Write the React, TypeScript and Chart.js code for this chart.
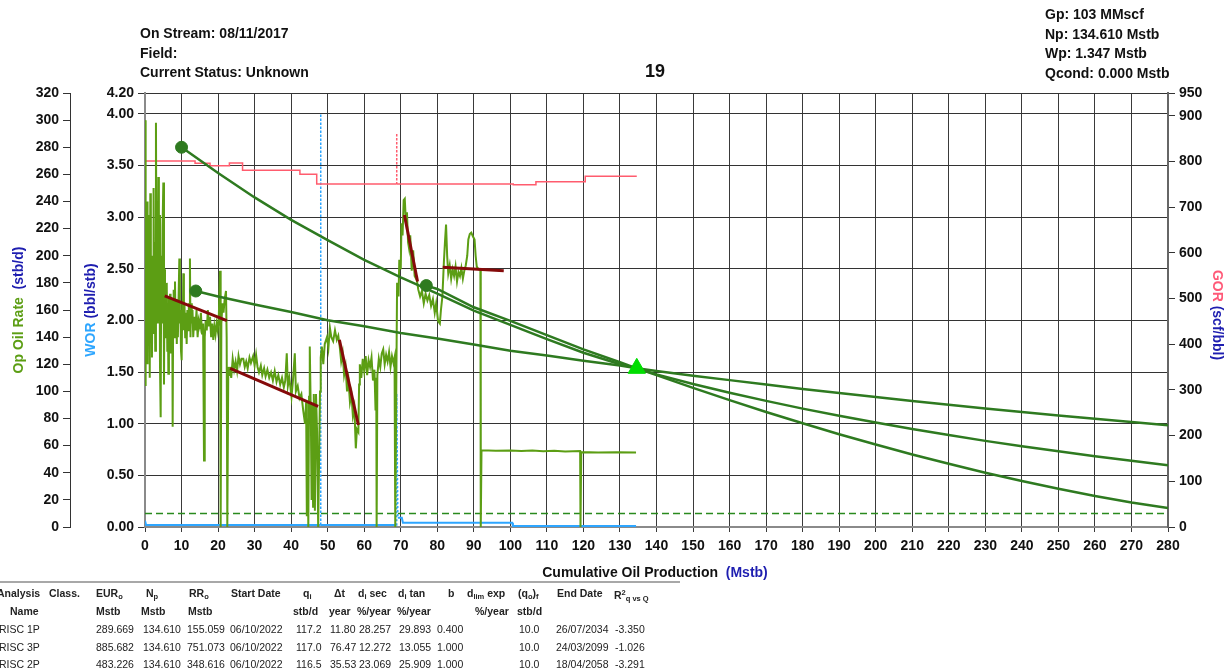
import React, { useEffect, useRef } from 'react';
import { Chart, registerables } from 'chart.js';

Chart.register(...registerables);

// ---------------- DATA ----------------
const xMax = 280;
const xStep = 10;
const oilMax = 320;
const oilStep = 20;
const worMax = 4.2;
const worTicks = [0, 0.5, 1, 1.5, 2, 2.5, 3, 3.5, 4, 4.2];
const gorMax = 950;
const gorTicks = [0, 100, 200, 300, 400, 500, 600, 700, 800, 900, 950];

// Op oil rate history (cum Mstb, stb/d)
const oilRateHistory: [number, number][] = [
  [0, 300], [0.1, 104], [0.25, 230], [0.4, 150], [0.55, 240], [0.7, 120], [0.85, 215], [1.0, 145],
  [1.15, 230], [1.3, 110], [1.45, 246], [1.6, 160], [1.75, 200], [1.9, 125], [2.05, 185], [2.2, 143],
  [2.35, 250], [2.5, 170], [2.65, 210], [2.8, 130], [3.0, 298], [3.15, 175], [3.3, 240], [3.5, 150],
  [3.65, 258], [3.8, 165], [3.95, 230], [4.1, 120], [4.29, 81], [4.45, 200], [4.6, 150], [4.8, 220],
  [5.02, 254], [5.2, 105], [5.35, 190], [5.47, 160], [5.65, 175], [5.8, 140], [5.95, 180], [6.1, 130],
  [6.25, 165], [6.39, 113], [6.55, 170], [6.7, 140], [6.85, 172], [7.0, 128], [7.15, 168], [7.3, 145],
  [7.45, 160], [7.57, 74], [7.7, 150], [7.85, 175], [8.0, 140], [8.21, 181], [8.35, 150], [8.5, 168],
  [8.7, 135], [8.85, 160], [9.0, 140], [9.2, 170], [9.4, 198], [9.55, 150], [9.7, 160], [9.85, 130],
  [10.03, 123], [10.2, 165], [10.35, 150], [10.49, 187], [10.65, 145], [10.8, 165], [11.0, 140], [11.2, 158],
  [11.4, 135], [11.6, 160], [11.8, 145], [12.0, 165], [12.15, 150], [12.3, 198], [12.45, 140], [12.6, 165],
  [12.8, 150], [13.0, 160], [13.2, 140], [13.5, 155], [13.8, 145], [14.1, 160], [14.4, 140], [14.7, 152],
  [15.0, 148], [15.3, 158], [15.6, 142], [15.9, 150], [16.15, 49], [16.35, 140], [16.6, 152], [16.9, 145],
  [17.2, 160], [17.5, 148], [17.8, 155], [18.1, 140], [18.4, 150], [18.7, 138], [19.0, 148], [19.3, 142],
  [19.6, 150], [19.9, 145], [20.2, 155], [20.53, 189], [20.71, 0], [20.9, 150], [21.2, 165], [21.5, 158],
  [21.8, 168], [22.17, 174], [22.35, 140], [22.53, 0], [22.8, 118], [23.0, 112], [23.26, 118], [23.6, 110],
  [24.0, 124], [24.4, 116], [24.8, 122], [25.2, 115], [25.6, 126], [26.0, 120], [26.4, 124], [26.9, 124],
  [27.3, 118], [27.7, 122], [28.1, 117], [28.6, 125], [29.0, 121], [29.6, 126], [30.0, 119], [30.4, 127],
  [30.8, 118], [31.2, 114], [31.7, 119], [32.1, 112], [32.6, 117], [33.0, 111], [33.5, 116], [34.0, 110],
  [34.5, 114], [35.0, 108], [35.5, 115], [36.0, 107], [36.5, 112], [37.0, 105], [37.5, 110], [38.0, 103],
  [38.4, 108], [38.8, 128], [39.1, 104], [39.5, 110], [40.1, 96], [40.5, 108], [41.0, 128], [41.3, 100],
  [41.8, 104], [42.3, 95], [42.8, 98], [43.3, 86], [43.8, 76], [44.1, 92], [44.3, 8], [44.5, 80],
  [44.7, 0], [44.9, 96], [45.1, 133], [45.4, 80], [45.6, 20], [45.8, 90], [46.0, 15], [46.2, 98],
  [46.5, 12], [46.8, 98], [47.1, 70], [47.4, 0], [47.6, 0], [47.9, 100], [48.1, 125], [48.4, 133],
  [48.8, 120], [49.2, 135], [49.8, 140], [50.2, 132], [50.6, 147], [51.0, 140], [51.5, 137], [52.0, 145],
  [52.5, 138], [52.9, 141], [53.3, 133], [53.7, 122], [54.1, 128], [54.5, 112], [54.9, 118], [55.3, 100],
  [55.7, 108], [56.1, 92], [56.5, 98], [56.9, 82], [57.3, 88], [57.7, 58], [58.0, 72], [58.4, 70],
  [58.6, 105], [58.8, 120], [59.2, 110], [59.6, 124], [60.0, 115], [60.4, 126], [60.8, 112], [61.2, 123],
  [61.6, 118], [62.0, 125], [62.4, 108], [62.8, 116], [63.1, 86], [63.3, 110], [63.4, 0], [63.6, 112],
  [64.0, 124], [64.4, 118], [64.8, 128], [65.2, 131], [65.6, 120], [66.0, 127], [66.4, 122], [66.8, 129],
  [67.2, 118], [67.6, 126], [68.0, 121], [68.3, 125], [68.5, 0], [68.8, 110], [69.0, 180], [69.4, 170],
  [69.6, 197], [70.0, 190], [70.2, 224], [70.5, 215], [70.8, 241], [71.1, 242], [71.4, 225], [71.7, 232],
  [72.0, 210], [72.3, 205], [72.6, 215], [73.0, 189], [73.4, 204], [73.8, 185], [74.4, 182], [74.8, 175],
  [75.3, 170], [75.8, 174], [76.3, 165], [76.8, 172], [77.3, 167], [77.8, 171], [78.3, 163], [78.8, 168],
  [79.3, 158], [79.7, 165], [80.2, 152], [80.7, 150], [81.0, 160], [81.4, 170], [81.8, 195], [82.1, 210],
  [82.4, 223], [82.7, 200], [83.0, 187], [83.4, 193], [83.8, 183], [84.2, 190], [84.6, 185], [85.0, 192],
  [85.4, 181], [85.8, 188], [86.2, 185], [86.6, 191], [87.0, 183], [87.4, 189], [87.8, 193], [88.2, 200],
  [88.5, 212], [88.9, 216], [89.3, 217], [89.8, 214], [90.2, 212], [90.5, 200], [90.8, 192], [91.3, 190],
  [91.8, 190], [91.9, 0], [92.1, 56.5], [96, 56.2], [100, 56.4], [103, 56.0], [106, 56.4], [109, 55.8],
  [112, 56.2], [115, 55.7], [119.1, 56.0], [119.2, 0], [119.4, 55.2], [124, 55.0], [129, 55.2], [134.4, 55.0],
];

// WOR history (cum Mstb, bbl/stb)
const worHistory: [number, number][] = [
  [0, 0.06], [0.3, 0.02], [48.1, 0.02], [48.1, 4.0], [48.1, 0.02], [68.8, 0.02], [68.9, 1.29],
  [69.2, 0.09], [70.3, 0.09], [70.6, 0.04], [100.5, 0.04], [100.7, 0.01], [134.4, 0.01],
];
const worSpikeIndex = [3, 6];

// GOR history (cum Mstb, scf/bbl)
const gorHistory: [number, number][] = [
  [0, 801], [13.7, 801], [13.7, 796], [17.8, 796], [17.8, 791], [23.1, 791], [23.1, 797], [26.7, 797],
  [26.7, 781], [42.4, 781], [42.4, 772], [47, 772], [47, 751], [68.9, 751], [68.9, 862], [68.9, 751],
  [100.8, 751], [100.8, 749], [107, 749], [107, 756], [120.5, 756], [120.5, 768], [134.6, 768],
];
const gorSpikeIndex = [14];

// Fitted (red) segments
const fitSegmentA: [number, number][] = [[5.4, 170.4], [22.4, 152.2]];
const fitSegmentB: [number, number][] = [[23.3, 117], [47.4, 89.0]];
const fitSegmentC: [number, number][] = [[53.2, 138.0], [58.4, 75.2]];
const fitSegmentD: [number, number][] = [[71.0, 230], [74.6, 181]];
const fitSegmentE: [number, number][] = [[81.5, 191.5], [98.2, 189]];

// Decline curves (dark green)
const hindcast1P: [number, number][] = [
  [10, 280], [20, 261], [30, 243], [40, 226.5], [50, 211.5], [60, 197], [70, 184], [80, 172],
  [90, 159.5], [100, 149], [110, 138.5], [120, 128.5], [130, 120], [134.6, 117],
];
const hindcast3P: [number, number][] = [
  [13.9, 174], [20, 170], [30, 164], [40, 158.5], [50, 152.5], [60, 148], [70, 143], [80, 139],
  [90, 134.5], [100, 130], [110, 126.5], [120, 122.5], [130, 119], [134.6, 117],
];
const hindcast2P: [number, number][] = [
  [77, 178], [80, 175.5], [90, 162], [100, 152], [110, 141.5], [120, 131], [130, 121.5], [134.6, 117],
];
const forecast1P: [number, number][] = [
  [134.6, 117], [140, 112], [150, 102.6], [160, 93.5], [170, 84.8], [180, 76.5], [190, 68.4], [200, 60.8],
  [210, 53.5], [220, 46.6], [230, 40], [240, 33.9], [250, 28.2], [260, 22.9], [270, 18.1], [280, 14],
];
const forecast2P: [number, number][] = [
  [134.6, 117], [140, 112.5], [150, 105.5], [160, 99], [170, 93], [180, 87.3], [190, 82], [200, 77],
  [210, 72.2], [220, 67.8], [230, 63.5], [240, 59.5], [250, 55.8], [260, 52.2], [270, 48.8], [280, 45.5],
];
const forecast3P: [number, number][] = [
  [134.6, 117], [140, 115.1], [150, 111.6], [160, 108.3], [170, 105], [180, 101.8], [190, 98.8], [200, 95.8],
  [210, 92.9], [220, 90.1], [230, 87.4], [240, 84.8], [250, 82.3], [260, 79.8], [270, 77.4], [280, 75],
];
const fitStartPoints: [number, number][] = [[10, 280], [13.9, 174], [77, 178]];
const forecastStartPoint: [number, number][] = [[134.6, 117]];
const economicLimit: [number, number][] = [[0, 10], [280, 10]];

// Header texts
const headerLeft = ['On Stream: 08/11/2017', 'Field:', 'Current Status: Unknown'];
const headerCenter = '19';
const headerRight = ['Gp: 103 MMscf', 'Np: 134.610 Mstb', 'Wp: 1.347 Mstb', 'Qcond: 0.000 Mstb'];

// Table
const tableRows: string[][] = [
  ['RISC 1P', '289.669', '134.610', '155.059', '06/10/2022', '117.2', '11.80', '28.257', '29.893', '0.400', '', '10.0', '26/07/2034', '-3.350'],
  ['RISC 3P', '885.682', '134.610', '751.073', '06/10/2022', '117.0', '76.47', '12.272', '13.055', '1.000', '', '10.0', '24/03/2099', '-1.026'],
  ['RISC 2P', '483.226', '134.610', '348.616', '06/10/2022', '116.5', '35.53', '23.069', '25.909', '1.000', '', '10.0', '18/04/2058', '-3.291'],
];

// ---------------- STYLE ----------------
const FONT = "'Liberation Sans', Arial, Helvetica, sans-serif";
const OIL_COLOR = '#5c9e14';
const DECLINE_COLOR = '#2e7a20';
const FIT_COLOR = '#850a0a';
const GOR_COLOR = '#ff5c6e';
const WOR_COLOR = '#2ea6ff';
const UNIT_BLUE = '#1e1eb0';
const TICK_FONT = { family: FONT, size: 14, weight: 'bold' as const };

const pts = (a: [number, number][]) => a.map(([x, y]) => ({ x, y }));

const mixedTitlePlugin = {
  id: 'mixedTitles',
  afterDraw(chart: any) {
    const ctx = chart.ctx as CanvasRenderingContext2D;
    ctx.save();
    ctx.font = `bold 14px ${FONT}`;
    ctx.textBaseline = 'middle';
    ctx.textAlign = 'left';
    const draw = (parts: { t: string; c: string }[], x: number, y: number, rot: number) => {
      const total = parts.reduce((s, p) => s + ctx.measureText(p.t).width, 0);
      ctx.save();
      ctx.translate(x, y);
      ctx.rotate(rot);
      let cx = -total / 2;
      for (const p of parts) {
        ctx.fillStyle = p.c;
        ctx.fillText(p.t, cx, 0);
        cx += ctx.measureText(p.t).width;
      }
      ctx.restore();
    };
    draw([{ t: 'Op Oil Rate ', c: OIL_COLOR }, { t: ' (stb/d)', c: UNIT_BLUE }], 19, 310, -Math.PI / 2);
    draw([{ t: 'WOR ', c: WOR_COLOR }, { t: '(bbl/stb)', c: UNIT_BLUE }], 91, 310, -Math.PI / 2);
    draw([{ t: 'GOR ', c: '#ff5a78' }, { t: '(scf/bbl)', c: UNIT_BLUE }], 1217, 315, Math.PI / 2);
    draw([{ t: 'Cumulative Oil Production  ', c: '#111' }, { t: '(Mstb)', c: UNIT_BLUE }], 655, 573, 0);
    ctx.restore();
  },
};

function lineDs(data: [number, number][], color: string, width: number, yAxisID: string, extra: any = {}) {
  return {
    data: pts(data),
    borderColor: color,
    backgroundColor: color,
    borderWidth: width,
    pointRadius: 0,
    fill: false,
    tension: 0,
    yAxisID,
    ...extra,
  };
}

export default function App() {
  const canvasRef = useRef<HTMLCanvasElement | null>(null);

  useEffect(() => {
    if (!canvasRef.current) return;
    const datasets: any[] = [
      {
        data: pts(forecastStartPoint), yAxisID: 'yOil', showLine: false,
        pointStyle: 'triangle', pointRadius: 10, pointBackgroundColor: '#00dd00', pointBorderColor: '#00dd00',
      },
      {
        data: pts(fitStartPoints), yAxisID: 'yOil', showLine: false,
        pointStyle: 'circle', pointRadius: 6, pointBackgroundColor: DECLINE_COLOR, pointBorderColor: DECLINE_COLOR,
      },
      lineDs(fitSegmentA, FIT_COLOR, 3, 'yOil'),
      lineDs(fitSegmentB, FIT_COLOR, 3, 'yOil'),
      lineDs(fitSegmentC, FIT_COLOR, 3, 'yOil'),
      lineDs(fitSegmentD, FIT_COLOR, 3, 'yOil'),
      lineDs(fitSegmentE, FIT_COLOR, 3, 'yOil'),
      lineDs(hindcast1P, DECLINE_COLOR, 2.5, 'yOil'),
      lineDs(hindcast3P, DECLINE_COLOR, 2.5, 'yOil'),
      lineDs(hindcast2P, DECLINE_COLOR, 2.5, 'yOil'),
      lineDs(forecast1P, DECLINE_COLOR, 2.5, 'yOil'),
      lineDs(forecast2P, DECLINE_COLOR, 2.5, 'yOil'),
      lineDs(forecast3P, DECLINE_COLOR, 2.5, 'yOil'),
      lineDs(oilRateHistory, OIL_COLOR, 2, 'yOil'),
      lineDs(gorHistory, GOR_COLOR, 1.5, 'yGor', {
        segment: {
          borderDash: (c: any) =>
            gorSpikeIndex.includes(c.p0DataIndex) || gorSpikeIndex.includes(c.p1DataIndex) ? [2, 2] : undefined,
        },
      }),
      lineDs(worHistory, WOR_COLOR, 2, 'yWor', {
        segment: {
          borderDash: (c: any) =>
            worSpikeIndex.includes(c.p0DataIndex) || worSpikeIndex.includes(c.p1DataIndex) ? [2, 2] : undefined,
          borderWidth: (c: any) =>
            worSpikeIndex.includes(c.p0DataIndex) || worSpikeIndex.includes(c.p1DataIndex) ? 1.5 : undefined,
        },
      }),
      lineDs(economicLimit, '#2a8a1e', 1.5, 'yOil', { borderDash: [7, 4] }),
    ];

    const chart = new Chart(canvasRef.current, {
      type: 'line',
      data: { datasets },
      plugins: [mixedTitlePlugin],
      options: {
        animation: false,
        responsive: false,
        maintainAspectRatio: false,
        parsing: true,
        layout: { padding: { left: 0, right: 21, top: 93, bottom: 114 } },
        plugins: { legend: { display: false }, tooltip: { enabled: false }, title: { display: false } },
        scales: {
          x: {
            type: 'linear',
            position: 'bottom',
            min: 0,
            max: xMax,
            ticks: { stepSize: xStep, autoSkip: false, maxRotation: 0, color: '#111', font: TICK_FONT, padding: 6 },
            grid: { color: '#3a3a3a', lineWidth: 1, tickLength: 5 },
            border: { color: '#8a8a8a', width: 2 },
            afterFit: (s: any) => { s.height = 30; },
          },
          yOil: {
            type: 'linear',
            position: 'left',
            weight: 1,
            min: 0,
            max: oilMax,
            ticks: { stepSize: oilStep, color: '#111', font: TICK_FONT, padding: 4 },
            grid: { drawOnChartArea: false, tickLength: 7, color: '#333' },
            border: { color: '#333', width: 1 },
            afterFit: (s: any) => { s.width = 70; },
          },
          yWor: {
            type: 'linear',
            position: 'left',
            weight: 0,
            min: 0,
            max: worMax,
            afterBuildTicks: (s: any) => { s.ticks = worTicks.map((v) => ({ value: v })); },
            ticks: { color: '#111', font: TICK_FONT, padding: 4, callback: (v: any) => Number(v).toFixed(2) },
            grid: { color: '#333', lineWidth: 1, tickLength: 7 },
            border: { color: '#8a8a8a', width: 2 },
            afterFit: (s: any) => { s.width = 75; },
          },
          yGor: {
            type: 'linear',
            position: 'right',
            min: 0,
            max: gorMax,
            afterBuildTicks: (s: any) => { s.ticks = gorTicks.map((v) => ({ value: v })); },
            ticks: { color: '#111', font: TICK_FONT, padding: 4 },
            grid: { drawOnChartArea: false, tickLength: 7, color: '#333' },
            border: { color: '#666', width: 2 },
            afterFit: (s: any) => { s.width = 40; },
          },
        },
      } as any,
    });
    return () => chart.destroy();
  }, []);

  const colX = [-1, 96, 143, 187, 230, 296, 330, 359, 399, 437, 475, 519, 556, 615];
  const boldText: React.CSSProperties = { position: 'absolute', font: `bold 14px ${FONT}`, color: '#111', whiteSpace: 'nowrap', lineHeight: '16px' };
  const tblHead: React.CSSProperties = { position: 'absolute', font: `bold 10.5px ${FONT}`, color: '#222', whiteSpace: 'nowrap', lineHeight: '14px' };
  const tblCell: React.CSSProperties = { position: 'absolute', font: `10.5px ${FONT}`, color: '#222', whiteSpace: 'nowrap', lineHeight: '14px' };
  const sub: React.CSSProperties = { fontSize: '7.5px', verticalAlign: '-2px' };
  const sup: React.CSSProperties = { fontSize: '7.5px', verticalAlign: '4px' };

  const h1 = 586;
  const h2 = 604;
  const rowTop = [622, 640, 657];

  return (
    <div style={{ position: 'fixed', left: 0, top: 0, width: 1229, height: 671, background: '#fff', overflow: 'hidden' }}>
      <canvas ref={canvasRef} width={1229} height={671} style={{ position: 'absolute', left: 0, top: 0, width: 1229, height: 671 }} />
      {headerLeft.map((t, i) => (
        <div key={'hl' + i} style={{ ...boldText, left: 140, top: 25 + i * 19.5 }}>{t}</div>
      ))}
      <div style={{ ...boldText, font: `bold 18px ${FONT}`, left: 645, top: 61, lineHeight: '20px' }}>{headerCenter}</div>
      {headerRight.map((t, i) => (
        <div key={'hr' + i} style={{ ...boldText, left: 1045, top: 6 + i * 19.5 }}>{t}</div>
      ))}

      <div style={{ position: 'absolute', left: 0, top: 581, width: 680, height: 2, background: '#a8a8a8' }} />
      <div style={{ ...tblHead, left: -3, top: h1 }}>Analysis</div>
      <div style={{ ...tblHead, left: 49, top: h1 }}>Class.</div>
      <div style={{ ...tblHead, left: 96, top: h1 }}>EUR<span style={sub}>o</span></div>
      <div style={{ ...tblHead, left: 146, top: h1 }}>N<span style={sub}>p</span></div>
      <div style={{ ...tblHead, left: 189, top: h1 }}>RR<span style={sub}>o</span></div>
      <div style={{ ...tblHead, left: 231, top: h1 }}>Start Date</div>
      <div style={{ ...tblHead, left: 303, top: h1 }}>q<span style={sub}>i</span></div>
      <div style={{ ...tblHead, left: 334, top: h1 }}>Δt</div>
      <div style={{ ...tblHead, left: 358, top: h1 }}>d<span style={sub}>i</span> sec</div>
      <div style={{ ...tblHead, left: 398, top: h1 }}>d<span style={sub}>i</span> tan</div>
      <div style={{ ...tblHead, left: 448, top: h1 }}>b</div>
      <div style={{ ...tblHead, left: 467, top: h1 }}>d<span style={sub}>lim</span> exp</div>
      <div style={{ ...tblHead, left: 518, top: h1 }}>(q<span style={sub}>o</span>)<span style={sub}>f</span></div>
      <div style={{ ...tblHead, left: 557, top: h1 }}>End Date</div>
      <div style={{ ...tblHead, left: 614, top: h1 }}>R<span style={sup}>2</span><span style={sub}>q vs Q</span></div>

      <div style={{ ...tblHead, left: 10, top: h2 }}>Name</div>
      <div style={{ ...tblHead, left: 96, top: h2 }}>Mstb</div>
      <div style={{ ...tblHead, left: 141, top: h2 }}>Mstb</div>
      <div style={{ ...tblHead, left: 188, top: h2 }}>Mstb</div>
      <div style={{ ...tblHead, left: 293, top: h2 }}>stb/d</div>
      <div style={{ ...tblHead, left: 329, top: h2 }}>year</div>
      <div style={{ ...tblHead, left: 357, top: h2 }}>%/year</div>
      <div style={{ ...tblHead, left: 397, top: h2 }}>%/year</div>
      <div style={{ ...tblHead, left: 475, top: h2 }}>%/year</div>
      <div style={{ ...tblHead, left: 517, top: h2 }}>stb/d</div>

      {tableRows.map((row, r) =>
        row.map((cell, c) => (
          <div key={`c${r}-${c}`} style={{ ...tblCell, left: colX[c], top: rowTop[r] }}>{cell}</div>
        ))
      )}
    </div>
  );
}
